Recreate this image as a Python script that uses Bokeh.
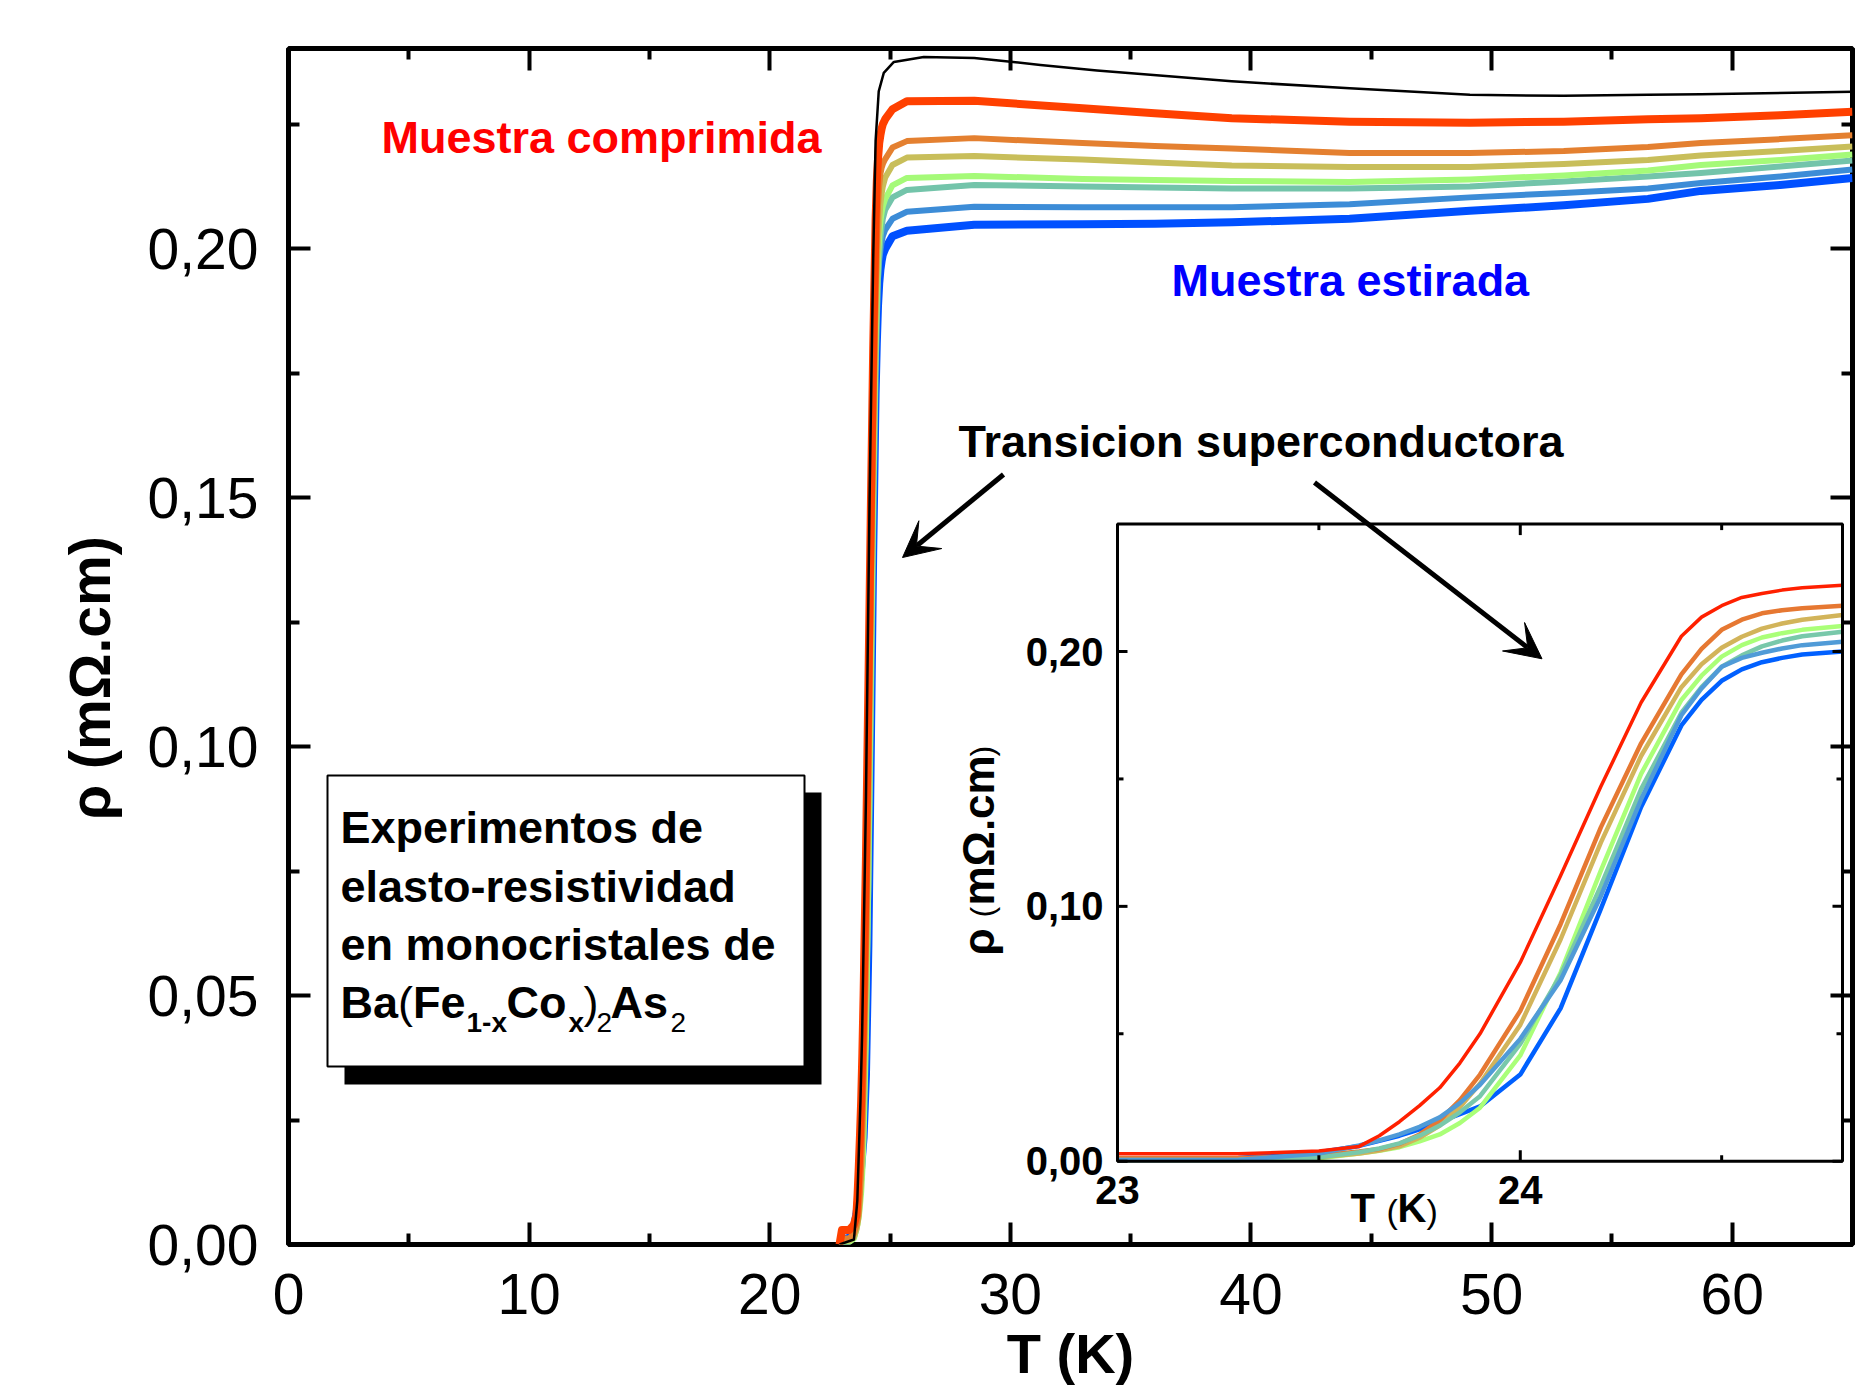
import numpy as np
from bokeh.plotting import figure
from bokeh.models import (Range1d, FixedTicker, CustomJSTickFormatter, LinearAxis,
                          BoxAnnotation, Arrow, VeeHead, Label)
from bokeh.core.properties import value
from bokeh.embed import file_html
from bokeh.resources import INLINE

FONT = "Liberation Sans"

# ---------------- data ----------------
# temperature grid of the superconducting transition (also shown in the inset)
T_trans = [22.9, 23.0, 23.3, 23.5, 23.6, 23.65, 23.7, 23.75, 23.8, 23.85, 23.9, 24.0, 24.1,
           24.2, 24.3, 24.4, 24.45, 24.5, 24.55, 24.6, 24.65, 24.7, 24.8]
# temperature grid of the normal-state plateau
T_plat = [25.1, 25.7, 28.5, 33.0, 36.0, 39.2, 44.1, 49.1, 53.0, 56.5, 58.7, 62.0, 65.0]

red_trans = [0.0, 0.0029, 0.0029, 0.0040, 0.0058, 0.0100, 0.0155, 0.0218, 0.0288, 0.0385,
             0.0500, 0.0780, 0.1120, 0.1470, 0.1800, 0.2060, 0.2135, 0.2180, 0.2212, 0.2228,
             0.2241, 0.2250, 0.2260]
red_plat = [0.2280, 0.2296, 0.2297, 0.2282, 0.2272, 0.2262, 0.2255, 0.2253, 0.2255, 0.2260,
            0.2262, 0.2268, 0.2275]

orange_trans = [0.0, 0.0012, 0.0012, 0.0022, 0.0038, 0.0048, 0.0068, 0.0105, 0.0160, 0.0240,
                0.0340, 0.0590, 0.0930, 0.1310, 0.1640, 0.1910, 0.2010, 0.2085, 0.2125,
                0.2150, 0.2162, 0.2170, 0.2180]
orange_plat = [0.2203, 0.2216, 0.2222, 0.2212, 0.2206, 0.2201, 0.2192, 0.2192, 0.2196, 0.2204,
               0.2212, 0.2220, 0.2228]

khaki_trans = [0.0, 0.0008, 0.0008, 0.0015, 0.0030, 0.0042, 0.0058, 0.0092, 0.0140, 0.0212,
               0.0305, 0.0535, 0.0870, 0.1250, 0.1590, 0.1860, 0.1950, 0.2015, 0.2058, 0.2090,
               0.2110, 0.2125, 0.2143]
khaki_plat = [0.2168, 0.2183, 0.2186, 0.2179, 0.2173, 0.2167, 0.2164, 0.2164, 0.2170, 0.2178,
              0.2187, 0.2196, 0.2205]

green_trans = [0.0, 0.0005, 0.0005, 0.0012, 0.0030, 0.0041, 0.0055, 0.0078, 0.0105, 0.0150,
               0.0210, 0.0415, 0.0740, 0.1140, 0.1520, 0.1810, 0.1905, 0.1980, 0.2025, 0.2055,
               0.2072, 0.2085, 0.2100]
green_plat = [0.2127, 0.2142, 0.2146, 0.2140, 0.2138, 0.2136, 0.2134, 0.2139, 0.2147, 0.2157,
              0.2168, 0.2178, 0.2189]

teal_trans = [0.0, 0.0005, 0.0006, 0.0015, 0.0035, 0.0050, 0.0070, 0.0100, 0.0140, 0.0192,
              0.0255, 0.0460, 0.0730, 0.1080, 0.1460, 0.1760, 0.1860, 0.1940, 0.1985, 0.2020,
              0.2043, 0.2060, 0.2078]
teal_plat = [0.2103, 0.2118, 0.2128, 0.2125, 0.2123, 0.2121, 0.2121, 0.2125, 0.2135, 0.2145,
             0.2152, 0.2165, 0.2177]

medblue_trans = [0.0, 0.0005, 0.0005, 0.0030, 0.0062, 0.0082, 0.0105, 0.0135, 0.0172, 0.0228,
                 0.0300, 0.0480, 0.0710, 0.1040, 0.1420, 0.1750, 0.1855, 0.1940, 0.1975,
                 0.1995, 0.2012, 0.2025, 0.2038]
medblue_plat = [0.2060, 0.2074, 0.2084, 0.2083, 0.2083, 0.2083, 0.2089, 0.2103, 0.2112, 0.2121,
                0.2132, 0.2145, 0.2159]

blue_trans = [0.0, 0.0010, 0.0013, 0.0035, 0.0060, 0.0080, 0.0100, 0.0125, 0.0155, 0.0185,
              0.0215, 0.0340, 0.0600, 0.0990, 0.1390, 0.1710, 0.1810, 0.1885, 0.1930, 0.1958,
              0.1975, 0.1988, 0.2000]
blue_plat = [0.2025, 0.2036, 0.2048, 0.2049, 0.2050, 0.2053, 0.2060, 0.2076, 0.2087, 0.2100,
             0.2116, 0.2128, 0.2142]

black_T = [22.9, 23.5, 23.64, 23.77, 23.84, 24.0, 24.15, 24.3, 24.4, 24.53, 24.74, 25.16,
           26.4, 28.5, 31.25, 33.6, 39.2, 44.1, 49.1, 53.0, 56.5, 58.7, 65.0]
black_rho = [0.0, 0.001, 0.0088, 0.0288, 0.0423, 0.090, 0.150, 0.198, 0.2216, 0.2316, 0.2353,
             0.2375, 0.2385, 0.2383, 0.2369, 0.2358, 0.2336, 0.2322, 0.2309, 0.2307, 0.2309,
             0.2310, 0.2315]

# ticks
x_major = [0, 10, 20, 30, 40, 50, 60]
x_minor = [5, 15, 25, 35, 45, 55, 65]
y_major = [0.0, 0.05, 0.10, 0.15, 0.20]
y_minor = [0.025, 0.075, 0.125, 0.175, 0.225]
inset_x_major = [23, 24]
inset_x_minor = [23.5, 24.5]
inset_y_major = [0.0, 0.10, 0.20]
inset_y_minor = [0.05, 0.15]
inset_x_labels = ["23", "24"]
inset_y_labels = ["0,00", "0,10", "0,20"]

# ---------------- styles ----------------
main_colors = {"blue": "#0050FF", "medblue": "#3C8CD7", "teal": "#73C4AA", "green": "#A5FA78",
               "khaki": "#C8BE5A", "orange": "#E48030", "red": "#FF4000"}
main_widths = {"blue": 8, "medblue": 6, "teal": 6, "green": 6, "khaki": 6, "orange": 6, "red": 8}
inset_colors = {"blue": "#0060FF", "green": "#AAFF78", "khaki": "#D2B45A", "orange": "#E67832",
                "teal": "#78C8AA", "medblue": "#509BD7", "red": "#FF2000"}
inset_widths = {"blue": 4.5, "green": 4.5, "khaki": 4.5, "orange": 4.5, "teal": 4.5,
                "medblue": 4.5, "red": 3.5}

curves = {
    "red": (red_trans, red_plat), "orange": (orange_trans, orange_plat),
    "khaki": (khaki_trans, khaki_plat), "green": (green_trans, green_plat),
    "teal": (teal_trans, teal_plat), "medblue": (medblue_trans, medblue_plat),
    "blue": (blue_trans, blue_plat),
}
for _n, (_tr, _pl) in curves.items():
    assert len(_tr) == len(T_trans) and len(_pl) == len(T_plat), _n

# ---------------- figure geometry ----------------
W, H = 1866, 1388
BL, BR, BT, BB = 288, 14, 48, 144
X0, X1, Y0, Y1 = 0.0, 65.0, 0.0, 0.2402
PX_L, PX_R, PX_T, PX_B = BL, W - BR, BT, H - BB   # pixels of the frame


def dx(px):
    return X0 + (px - PX_L) / (PX_R - PX_L) * (X1 - X0)


def dy(py):
    return Y0 + (PX_B - py) / (PX_B - PX_T) * (Y1 - Y0)


p = figure(width=W, height=H, x_range=Range1d(X0, X1), y_range=Range1d(Y0, Y1),
           output_backend="svg", toolbar_location=None,
           min_border_left=BL, min_border_right=BR, min_border_top=BT, min_border_bottom=BB)
p.background_fill_color = "white"
p.border_fill_color = "white"
p.outline_line_color = "black"
p.outline_line_width = 5
p.xgrid.visible = False
p.ygrid.visible = False


def style_axis(ax, ticks, minor, code, labels=True):
    ax.ticker = FixedTicker(ticks=ticks, minor_ticks=minor)
    ax.axis_line_color = None
    ax.major_tick_in = 22
    ax.major_tick_out = 0
    ax.minor_tick_in = 11
    ax.minor_tick_out = 0
    ax.major_tick_line_width = 4
    ax.minor_tick_line_width = 4
    ax.major_tick_line_color = "black"
    ax.minor_tick_line_color = "black"
    if labels:
        ax.formatter = CustomJSTickFormatter(code=code)
        ax.major_label_text_font = FONT
        ax.major_label_text_font_size = "57px"
        ax.major_label_text_color = "black"
    else:
        ax.formatter = CustomJSTickFormatter(code="return ''")
        ax.major_label_text_font_size = "1px"
        ax.major_label_standoff = 0


bottom = p.below[0]
left = p.left[0]
style_axis(bottom, x_major, x_minor, "return tick.toFixed(0)")
style_axis(left, y_major, y_minor, "return tick.toFixed(2).replace('.', ',')")
bottom.major_label_standoff = 29
bottom.axis_label = "T (K)"
bottom.axis_label_text_font = FONT
bottom.axis_label_text_font_size = "56px"
bottom.axis_label_text_font_style = "bold"
bottom.axis_label_text_color = "black"
bottom.axis_label_text_line_height = 0.7
bottom.axis_label_standoff = 5
left.major_label_standoff = 30
# trailing no-break spaces move the title a little below the axis centre, as in the original
left.axis_label = "ρ (mΩ.cm)" + "\u00a0" * 4
left.axis_label_text_font = FONT
left.axis_label_text_font_size = "57px"
left.axis_label_text_font_style = "bold"
left.axis_label_text_color = "black"
left.axis_label_standoff = 23

top = LinearAxis()
style_axis(top, x_major, x_minor, "", labels=False)
p.add_layout(top, "above")
right = LinearAxis()
style_axis(right, y_major, y_minor, "", labels=False)
p.add_layout(right, "right")

# ---------------- main curves ----------------
for name in ["blue", "medblue", "teal", "green", "khaki", "orange", "red"]:
    tr, pl = curves[name]
    p.line(T_trans + T_plat, tr + pl, line_color=main_colors[name],
           line_width=main_widths[name], line_join="round")
p.line(black_T, black_rho, line_color="black", line_width=2.5, line_join="round")

# ---------------- inset ----------------
ix = Range1d(23.0, 24.8)
iy = Range1d(0.0, 0.25)
inset = p.subplot(x_source=ix, y_source=iy,
                  x_target=Range1d(dx(1117), dx(1842)),
                  y_target=Range1d(dy(1160.7), dy(523.6)))
inset.quad(left=[ix.start], right=[ix.end], bottom=[iy.start], top=[iy.end],
           fill_color="white", line_color=None)
T_in = [t for t in T_trans if t >= ix.start]
n0 = len(T_trans) - len(T_in)
for name in ["blue", "green", "khaki", "orange", "teal", "medblue", "red"]:
    tr, _ = curves[name]
    inset.line(T_in, tr[n0:], line_color=inset_colors[name], line_width=inset_widths[name],
               line_join="round")
inset.quad(left=[ix.start], right=[ix.end], bottom=[iy.start], top=[iy.end],
           fill_color=None, line_color="black", line_width=3)
tick_kw = dict(line_color="black", line_width=3, length_units="screen")
for xs, ln in ((inset_x_major, 11), (inset_x_minor, 6)):
    inset.ray(x=xs, y=[iy.start] * len(xs), length=ln, angle=np.pi / 2, **tick_kw)
    inset.ray(x=xs, y=[iy.end] * len(xs), length=ln, angle=-np.pi / 2, **tick_kw)
for ys, ln in ((inset_y_major, 10), (inset_y_minor, 6)):
    inset.ray(x=[ix.start] * len(ys), y=ys, length=ln, angle=0.0, **tick_kw)
    inset.ray(x=[ix.end] * len(ys), y=ys, length=ln, angle=np.pi, **tick_kw)
lab_kw = dict(text_font=value(FONT), text_font_size="40px", text_font_style="bold",
              text_color="black")
inset.text(x=[ix.start] * len(inset_y_major), y=inset_y_major, text=inset_y_labels,
           x_offset=-14, text_align="right", text_baseline="middle", **lab_kw)
inset.text(x=inset_x_major, y=[iy.start] * len(inset_x_major), text=inset_x_labels,
           y_offset=29, text_align="center", text_baseline="middle", **lab_kw)

# inset axis titles (pieces, with the smaller plain parentheses)
bold40 = dict(text_font=value(FONT), text_font_size="40px", text_font_style="bold",
              text_color="black", text_baseline="middle", text_align="left")
plain34 = dict(text_font=value(FONT), text_font_size="34px", text_font_style="normal",
               text_color="black", text_baseline="middle", text_align="left")
p.text(x=[dx(1350), dx(1397)], y=[dy(1207)] * 2, text=["T", "K"], **bold40)
p.text(x=[dx(1386), dx(1426)], y=[dy(1210)] * 2, text=["(", ")"], **plain34)
bold44r = dict(text_font=value(FONT), text_font_size="44px", text_font_style="bold",
               text_color="black", text_baseline="middle", text_align="left",
               angle=np.pi / 2)
plain32r = dict(text_font=value(FONT), text_font_size="32px", text_font_style="normal",
                text_color="black", text_baseline="middle", text_align="left",
                angle=np.pi / 2)
p.text(x=[dx(978), dx(978)], y=[dy(955), dy(905)], text=["ρ", "mΩ.cm"], **bold44r)
p.text(x=[dx(981), dx(981)], y=[dy(917), dy(756)], text=["(", ")"], **plain32r)

# ---------------- annotations ----------------
def add_label(x, y, text, size="45px", style="bold", color="black", align="left",
              baseline="middle"):
    p.add_layout(Label(x=x, y=y, text=text, text_font=FONT, text_font_size=size,
                       text_font_style=style, text_color=color, text_align=align,
                       text_baseline=baseline))


add_label(dx(381), dy(137), "Muestra comprimida", color="#FF0000")
add_label(dx(1171), dy(279.5), "Muestra estirada", color="#0000FF")
add_label(dx(958), dy(441), "Transicion superconductora")

for (xs, ys, xe, ye) in ((1003, 474, 902, 557), (1314, 482, 1541.5, 658.3)):
    p.add_layout(Arrow(end=VeeHead(size=36, fill_color="black", line_color="black",
                                   line_width=1),
                       x_start=dx(xs), y_start=dy(ys), x_end=dx(xe), y_end=dy(ye),
                       line_width=5, line_color="black"))

# text box with shadow
p.add_layout(BoxAnnotation(left=dx(344), right=dx(821), top=dy(792), bottom=dy(1084),
                           fill_color="black", fill_alpha=1.0, line_color=None))
p.add_layout(BoxAnnotation(left=dx(327), right=dx(804), top=dy(775), bottom=dy(1066),
                           fill_color="white", fill_alpha=1.0, line_color="black",
                           line_width=2, line_alpha=1.0))
for txt, py in (("Experimentos de", 827), ("elasto-resistividad", 885.5),
                ("en monocristales de", 944)):
    add_label(dx(340), dy(py), txt)
main4, sub4 = 1002, 1022
for txt, px, style, size, py in (("Ba", 340, "bold", "45px", main4),
                                 ("(", 397.5, "normal", "45px", main4),
                                 ("Fe", 412.5, "bold", "45px", main4),
                                 ("1-x", 466, "bold", "28px", sub4),
                                 ("Co", 506, "bold", "45px", main4),
                                 ("x", 568, "bold", "28px", sub4),
                                 (")", 583, "normal", "45px", main4),
                                 ("2", 596, "normal", "28px", sub4),
                                 ("As", 610, "bold", "45px", main4),
                                 ("2", 670, "normal", "28px", sub4)):
    add_label(dx(px), dy(py), txt, size=size, style=style)

open("out.html", "w").write(file_html(p, INLINE))
